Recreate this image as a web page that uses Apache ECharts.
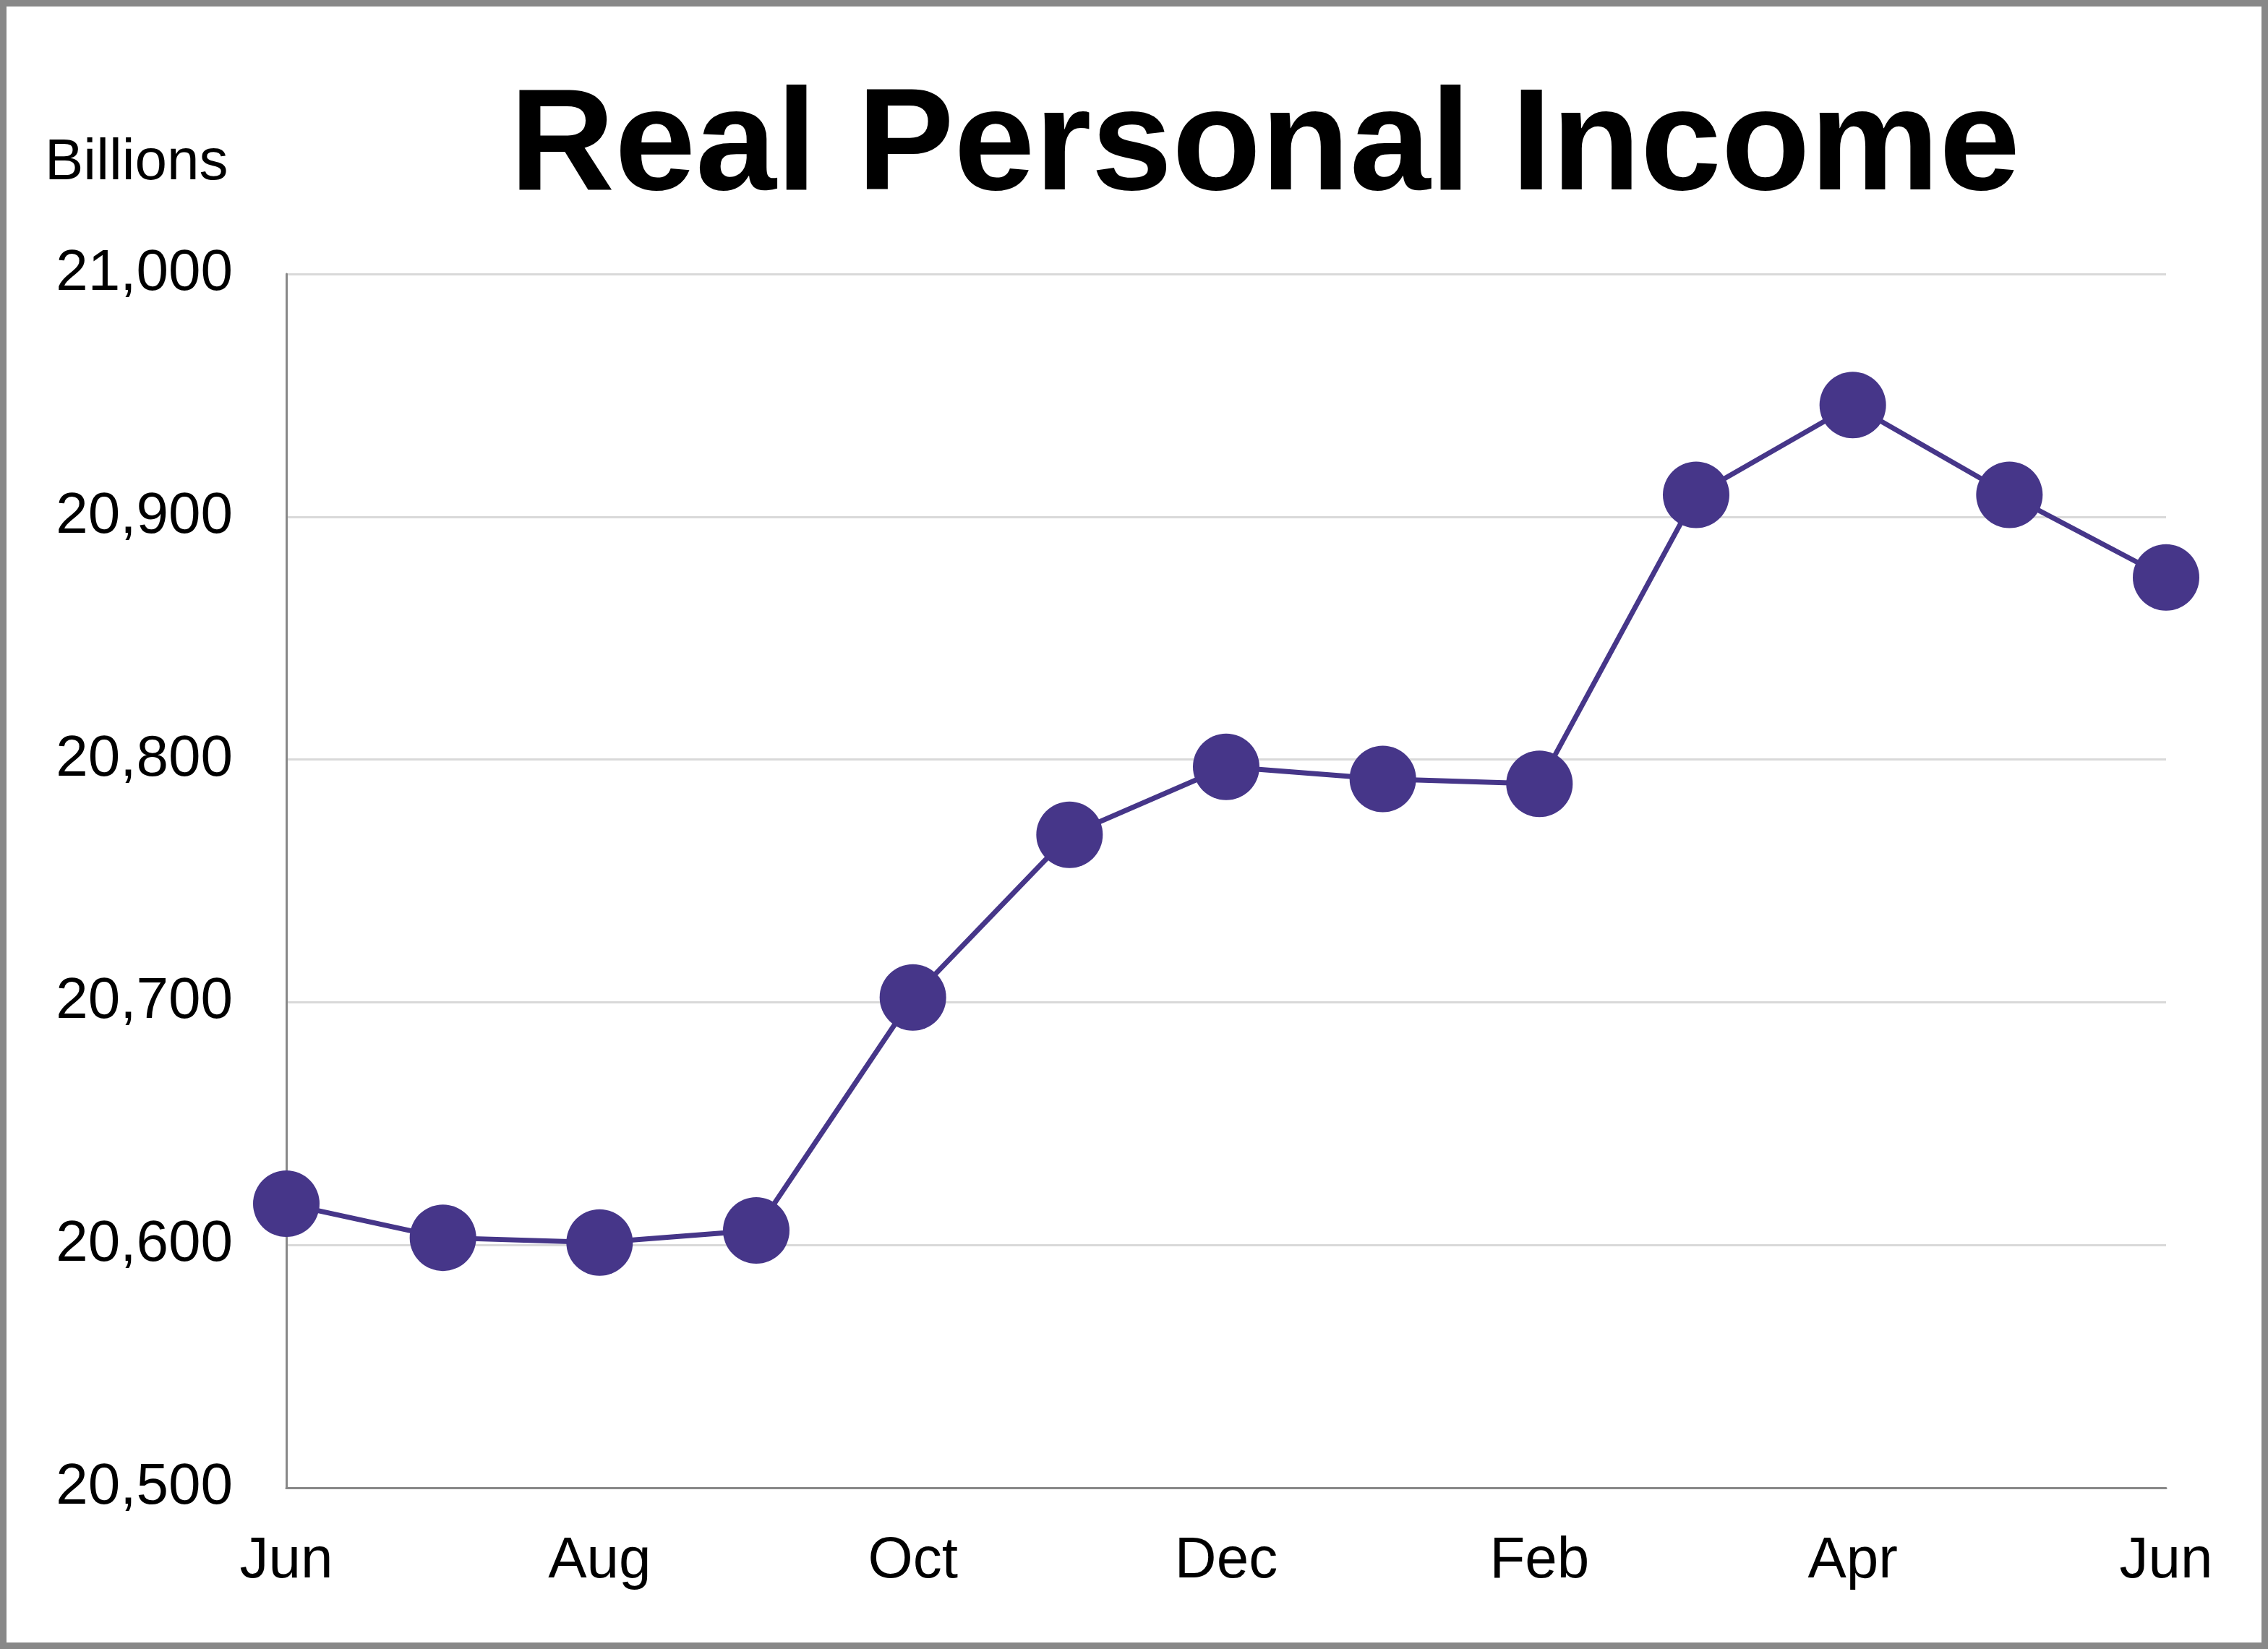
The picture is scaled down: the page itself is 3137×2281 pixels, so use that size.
<!DOCTYPE html>
<html>
<head>
<meta charset="utf-8">
<title>Real Personal Income</title>
<script src="https://cdn.jsdelivr.net/npm/echarts@6/dist/echarts.min.js"></script>
<style>
    html, body { margin: 0; padding: 0; background: #fff; }
    #main { width: 3137px; height: 2281px; position: relative; }
    #frame {
        position: absolute; left: 0; top: 0; width: 3137px; height: 2281px;
        box-sizing: border-box; border: 9px solid #888888; pointer-events: none;
    }
</style>
</head>
<body>
<div id="main"></div>
<div id="frame"></div>
<script>
// months, Jun through the next Jun
var months = ["Jun", "Jul", "Aug", "Sep", "Oct", "Nov", "Dec", "Jan", "Feb", "Mar", "Apr", "May", "Jun"];
// real personal income, billions
var income = [20617, 20603, 20601, 20606, 20702, 20769, 20797, 20792, 20790, 20909, 20946, 20909, 20875];
var yMin = 20500, yMax = 21000, yStep = 100;

var chart = echarts.init(document.getElementById('main'));
var font = 'Liberation Sans, Arial, sans-serif';

var option = {
    backgroundColor: '#ffffff',
    animation: false,
    title: [
        {
            text: 'Real Personal Income',
            left: 700,
            top: 101,
            textStyle: { fontFamily: font, fontSize: 201, fontWeight: 'bold', color: '#000' }
        },
        {
            text: 'Billions',
            left: 57,
            top: 181,
            textStyle: { fontFamily: font, fontSize: 80, fontWeight: 'normal', color: '#000' }
        }
    ],
    grid: {
        left: 396,
        right: 141,
        top: 379,
        bottom: 223
    },
    xAxis: {
        type: 'category',
        boundaryGap: false,
        data: months,
        axisLine: { show: true, lineStyle: { color: '#888888', width: 3 } },
        axisTick: { show: false },
        splitLine: { show: false },
        axisLabel: {
            interval: 1,
            margin: 62,
            fontFamily: font,
            fontSize: 80,
            color: '#000'
        }
    },
    yAxis: {
        type: 'value',
        min: yMin,
        max: yMax,
        interval: yStep,
        axisLine: { show: true, lineStyle: { color: '#888888', width: 3 } },
        axisTick: { show: false },
        splitLine: { show: true, lineStyle: { color: '#d9d9d9', width: 3 } },
        axisLabel: {
            margin: 74,
            fontFamily: font,
            fontSize: 80,
            color: '#000',
            formatter: function (v) {
                return v.toString().replace(/\B(?=(\d{3})+(?!\d))/g, ',');
            }
        }
    },
    series: [
        {
            name: 'Real Personal Income',
            type: 'line',
            data: income,
            symbol: 'circle',
            symbolSize: 92,
            lineStyle: { color: '#463689', width: 7 },
            itemStyle: { color: '#463689' },
            z: 3
        }
    ]
};

chart.setOption(option);
</script>
</body>
</html>
